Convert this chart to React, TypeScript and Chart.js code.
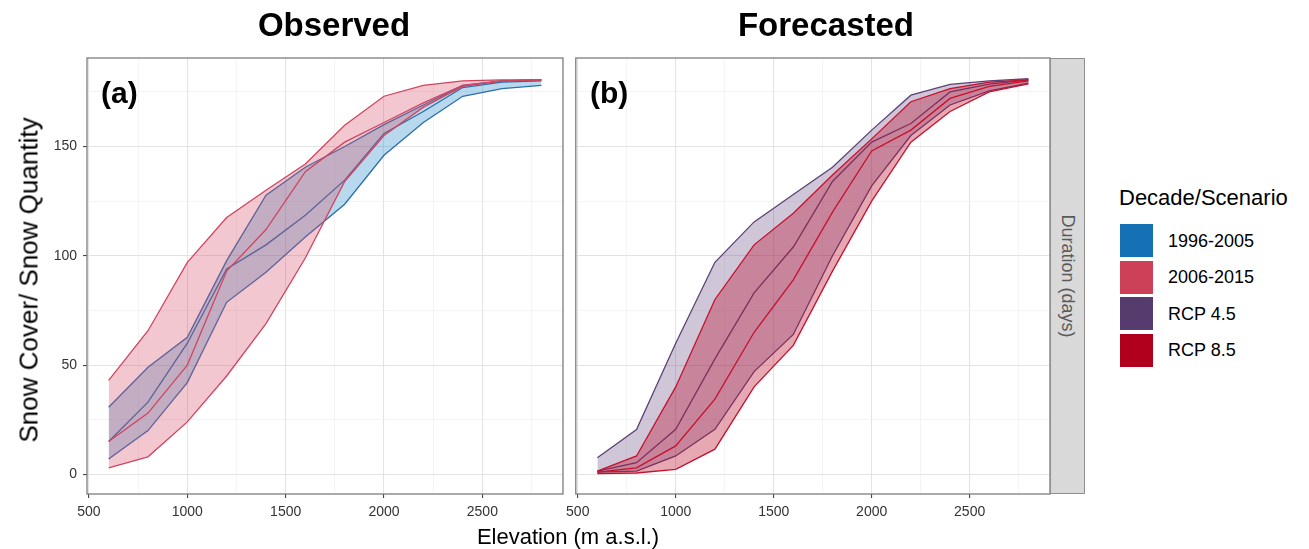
import React, { useEffect, useRef } from 'react';
import { Chart, registerables } from 'chart.js';

Chart.register(...registerables);

const FONT = '"Liberation Sans", Arial, Helvetica, sans-serif';

// Elevation (m a.s.l.)
const elevations = [600, 800, 1000, 1200, 1400, 1600, 1800, 2000, 2200, 2400, 2600, 2800];

// Observed 1996-2005 (days)
const obs9605Upper = [30.7, 49, 62.7, 97.8, 127.7, 140.5, 150, 160, 169, 178, 180, 180.5];
const obs9605Mid = [15, 33, 60, 94, 105, 118.5, 134.6, 156, 166, 177, 179.5, 180];
const obs9605Lower = [7, 20, 42, 78.7, 92.5, 108.6, 123.6, 146, 161, 173, 176.5, 178];

// Observed 2006-2015 (days)
const obs0615Upper = [43, 65.7, 97, 117.5, 130, 142, 159.7, 173, 178, 180, 180.5, 180.5];
const obs0615Mid = [15, 28, 50, 93, 112, 138.5, 152, 161, 170, 178, 180, 180.5];
const obs0615Lower = [3, 8, 24, 45, 69, 99, 134, 155, 168, 177.5, 180, 180.5];

// Forecasted RCP 4.5 (days)
const rcp45Upper = [7.6, 20.5, 60, 97, 115.5, 128, 140.5, 157.5, 173.5, 178.4, 180, 181];
const rcp45Mid = [1.5, 5.3, 20.6, 52.8, 83, 104, 134, 152, 160.5, 175, 178.5, 180.5];
const rcp45Lower = [1, 1.5, 8.4, 20.6, 47, 64, 100, 132, 155, 169, 175.5, 179];

// Forecasted RCP 8.5 (days)
const rcp85Upper = [1.5, 8.4, 40, 80, 105, 119.5, 137, 153.5, 170.5, 176.5, 179.5, 180.5];
const rcp85Mid = [1, 3, 13, 34.4, 65, 89, 120, 148, 157.5, 172, 177.5, 180];
const rcp85Lower = [0.3, 0.6, 2.3, 11.5, 40, 59, 93, 125, 152, 166, 175, 178.7];

// Axis ticks (major ones are labelled, minor ones only get a grid line)
const xTicks = [500, 750, 1000, 1250, 1500, 1750, 2000, 2250, 2500, 2750];
const xTickLabels = ['500', '1000', '1500', '2000', '2500'];
const yTicks = [0, 25, 50, 75, 100, 125, 150, 175];
const yTickLabels = ['0', '50', '100', '150'];

const legendLabels = ['1996-2005', '2006-2015', 'RCP 4.5', 'RCP 8.5'];
const legendColors = ['#1570b4', '#cc4058', '#563c6e', '#b0001e'];
const lineColors = ['#2a6db0', '#cf4560', '#5e4276', '#c8102e'];
const fillColors = [
  'rgba(40,140,200,0.33)',
  'rgba(215,70,95,0.3)',
  'rgba(95,70,125,0.3)',
  'rgba(185,15,45,0.36)',
];

const xMin = 490;
const xMax = 2910;
const yMin = -9;
const yMax = 190.5;

type Group = { upper: number[]; mid: number[]; lower: number[]; line: string; fill: string };

function pts(arr: number[]) {
  return elevations.map((e, i) => ({ x: e, y: arr[i] }));
}

function groupDatasets(g: Group, baseIndex: number, baseOrder: number) {
  const common = { pointRadius: 0, borderWidth: 1.3, tension: 0, borderColor: g.line };
  return [
    { ...common, data: pts(g.upper), backgroundColor: g.fill, fill: { target: baseIndex + 1 }, order: baseOrder + 2 },
    { ...common, data: pts(g.lower), fill: false, order: baseOrder + 1 },
    { ...common, data: pts(g.mid), fill: false, order: baseOrder },
  ];
}

const panelBorder = {
  id: 'panelBorder',
  afterDraw(chart: any) {
    const { ctx, chartArea: a } = chart;
    ctx.save();
    ctx.strokeStyle = '#7d7d7d';
    ctx.lineWidth = 1.3;
    ctx.strokeRect(a.left, a.top, a.right - a.left, a.bottom - a.top);
    ctx.restore();
  },
};

function makeScales(showY: boolean, yWidth: number) {
  const majX = (c: any) => c.tick && xTickLabels.includes(String(c.tick.value));
  const majY = (c: any) => c.tick && yTickLabels.includes(String(c.tick.value));
  return {
    x: {
      type: 'linear',
      min: xMin,
      max: xMax,
      afterBuildTicks: (s: any) => {
        s.ticks = xTicks.map((v) => ({ value: v }));
      },
      afterFit: (s: any) => {
        s.height = 55;
      },
      border: { display: false },
      grid: {
        color: (c: any) => (majX(c) ? '#e3e3e3' : '#efefef'),
        lineWidth: (c: any) => (majX(c) ? 1.1 : 0.7),
        tickColor: (c: any) => (majX(c) ? '#444' : 'rgba(0,0,0,0)'),
        tickLength: 4,
      },
      ticks: {
        autoSkip: false,
        maxRotation: 0,
        minRotation: 0,
        padding: 6,
        color: '#333',
        font: { family: FONT, size: 14 },
        callback: (v: any) => (xTickLabels.includes(String(v)) ? String(v) : ''),
      },
    },
    y: {
      type: 'linear',
      min: yMin,
      max: yMax,
      afterBuildTicks: (s: any) => {
        s.ticks = yTicks.map((v) => ({ value: v }));
      },
      afterFit: (s: any) => {
        s.width = yWidth;
      },
      border: { display: false },
      grid: {
        color: (c: any) => (majY(c) ? '#e3e3e3' : '#efefef'),
        lineWidth: (c: any) => (majY(c) ? 1.1 : 0.7),
        tickColor: (c: any) => (majY(c) ? '#444' : 'rgba(0,0,0,0)'),
        tickLength: 4,
        drawTicks: showY,
      },
      ticks: {
        display: showY,
        autoSkip: false,
        padding: 6,
        color: '#333',
        font: { family: FONT, size: 14 },
        callback: (v: any) => (yTickLabels.includes(String(v)) ? String(v) : ''),
      },
    },
  };
}

function Panel(props: { groups: Group[]; showY: boolean; left: number; width: number; yWidth: number }) {
  const ref = useRef<HTMLCanvasElement>(null);
  useEffect(() => {
    const datasets: any[] = [];
    props.groups.forEach((g, gi) => {
      const base = datasets.length;
      datasets.push(...groupDatasets(g, base, (props.groups.length - gi) * 10));
    });
    const chart = new Chart(ref.current as HTMLCanvasElement, {
      type: 'line',
      data: { datasets },
      options: {
        responsive: false,
        animation: false,
        events: [],
        layout: { autoPadding: false, padding: { left: 0, top: 58, right: 5, bottom: 0 } },
        plugins: {
          legend: { display: false },
          tooltip: { enabled: false },
          filler: { propagate: false },
        },
        scales: makeScales(props.showY, props.yWidth) as any,
      } as any,
      plugins: [panelBorder],
    });
    return () => chart.destroy();
  }, []);
  return (
    <canvas
      ref={ref}
      width={props.width}
      height={549}
      style={{ position: 'absolute', left: props.left, top: 0, width: props.width, height: 549 }}
    />
  );
}

const observedGroups: Group[] = [
  { upper: obs9605Upper, mid: obs9605Mid, lower: obs9605Lower, line: lineColors[0], fill: fillColors[0] },
  { upper: obs0615Upper, mid: obs0615Mid, lower: obs0615Lower, line: lineColors[1], fill: fillColors[1] },
];
const forecastGroups: Group[] = [
  { upper: rcp45Upper, mid: rcp45Mid, lower: rcp45Lower, line: lineColors[2], fill: fillColors[2] },
  { upper: rcp85Upper, mid: rcp85Mid, lower: rcp85Lower, line: lineColors[3], fill: fillColors[3] },
];

const abs = (s: any): any => ({ position: 'absolute', fontFamily: FONT, whiteSpace: 'nowrap', ...s });

export default function App() {
  return (
    <div style={{ position: 'absolute', left: 0, top: 0, width: 1309, height: 549, background: '#fff', overflow: 'hidden' }}>
      <Panel groups={observedGroups} showY={true} left={0} width={568} yWidth={87} />
      <Panel groups={forecastGroups} showY={false} left={560} width={495} yWidth={15} />

      <div style={abs({ left: 334, top: 25, transform: 'translate(-50%,-50%)', fontSize: 33, fontWeight: 'bold', color: '#000' })}>Observed</div>
      <div style={abs({ left: 826, top: 25, transform: 'translate(-50%,-50%)', fontSize: 33, fontWeight: 'bold', color: '#000' })}>Forecasted</div>

      <div style={abs({ left: 101, top: 93, transform: 'translate(0,-50%)', fontSize: 30, fontWeight: 'bold', color: '#000' })}>(a)</div>
      <div style={abs({ left: 590, top: 93, transform: 'translate(0,-50%)', fontSize: 30, fontWeight: 'bold', color: '#000' })}>(b)</div>

      <div style={abs({ left: 29, top: 280, transform: 'translate(-50%,-50%) rotate(-90deg)', fontSize: 26, color: '#000' })}>Snow Cover/ Snow Quantity</div>
      <div style={abs({ left: 568, top: 537, transform: 'translate(-50%,-50%)', fontSize: 22, color: '#000' })}>Elevation (m a.s.l.)</div>

      <div style={abs({ left: 1050, top: 58, width: 35, height: 436, boxSizing: 'border-box', background: '#d9d9d9', border: '1px solid #8f8f8f' })}>
        <div style={abs({ left: '50%', top: '50%', transform: 'translate(-50%,-50%)', writingMode: 'vertical-rl', fontSize: 18, color: '#5a5a5a' })}>Duration (days)</div>
      </div>

      <div style={abs({ left: 1119, top: 198, transform: 'translate(0,-50%)', fontSize: 22, color: '#000' })}>Decade/Scenario</div>
      {legendLabels.map((lab, i) => {
        const top = 224 + i * 36.5;
        return (
          <React.Fragment key={lab}>
            <div style={abs({ left: 1120, top, width: 33, height: 33, background: legendColors[i] })} />
            <div style={abs({ left: 1168, top: top + 16.5, transform: 'translate(0,-50%)', fontSize: 18, color: '#000' })}>{lab}</div>
          </React.Fragment>
        );
      })}
    </div>
  );
}
